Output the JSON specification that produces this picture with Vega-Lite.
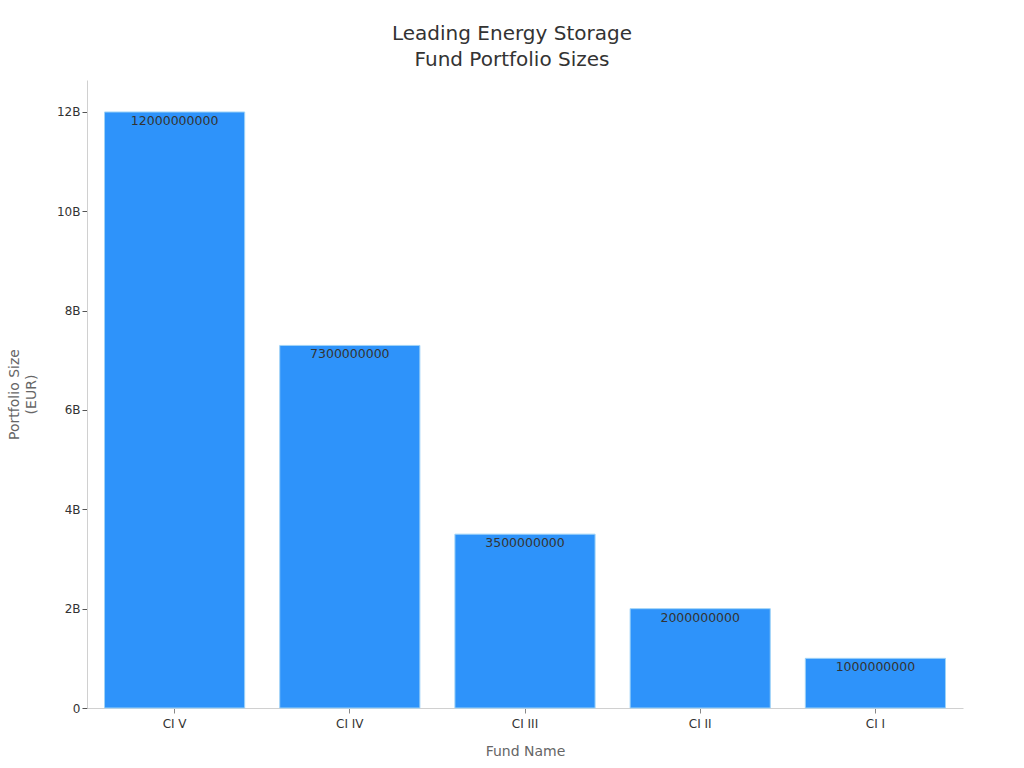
{
  "$schema": "https://vega.github.io/schema/vega-lite/v6.json",
  "autosize": {"type": "none"},
  "padding": {"left": 87, "top": 80, "right": 61, "bottom": 60},
  "width": 876,
  "height": 628,
  "title": {
    "text": ["Leading Energy Storage", "Fund Portfolio Sizes"],
    "font": "DejaVu Sans",
    "fontSize": 20,
    "fontWeight": "normal",
    "color": "#333333",
    "lineHeight": 26,
    "anchor": "middle",
    "dx": -13,
    "offset": 10
  },
  "data": {
    "values": [
      {"fund": "CI V", "size": 12000000000},
      {"fund": "CI IV", "size": 7300000000},
      {"fund": "CI III", "size": 3500000000},
      {"fund": "CI II", "size": 2000000000},
      {"fund": "CI I", "size": 1000000000}
    ]
  },
  "encoding": {
    "x": {
      "field": "fund",
      "type": "nominal",
      "sort": null,
      "scale": {"paddingInner": 0.2, "paddingOuter": 0.1},
      "axis": {
        "title": "Fund Name",
        "labelAngle": 0,
        "labelPadding": 5,
        "titlePadding": 15,
        "domainColor": "#d0d0d0",
        "tickColor": "#888888",
        "tickSize": 5
      }
    },
    "y": {
      "field": "size",
      "type": "quantitative",
      "scale": {"domain": [0, 12644000000], "nice": false},
      "axis": {
        "title": ["Portfolio Size", "(EUR)"],
        "values": [0, 2000000000, 4000000000, 6000000000, 8000000000, 10000000000, 12000000000],
        "labelExpr": "datum.value == 0 ? '0' : format(datum.value / 1e9, 'd') + 'B'",
        "grid": false,
        "domainColor": "#d0d0d0",
        "tickColor": "#555555",
        "tickSize": 5,
        "titleLineHeight": 17,
        "titlePadding": 18
      }
    }
  },
  "layer": [
    {
      "mark": {"type": "bar", "color": "#2E93FA", "stroke": "#9fd3f7", "strokeWidth": 1}
    },
    {
      "mark": {"type": "text", "baseline": "top", "dy": 3, "fontSize": 12.5, "color": "#333333", "font": "DejaVu Sans"},
      "encoding": {"text": {"field": "size", "type": "quantitative", "format": "d"}}
    }
  ],
  "config": {
    "view": {"stroke": null},
    "font": "DejaVu Sans",
    "axis": {
      "labelFont": "DejaVu Sans",
      "labelFontSize": 12,
      "labelColor": "#333333",
      "titleFont": "DejaVu Sans",
      "titleFontSize": 14,
      "titleFontWeight": "normal",
      "titleColor": "#666666"
    }
  }
}
